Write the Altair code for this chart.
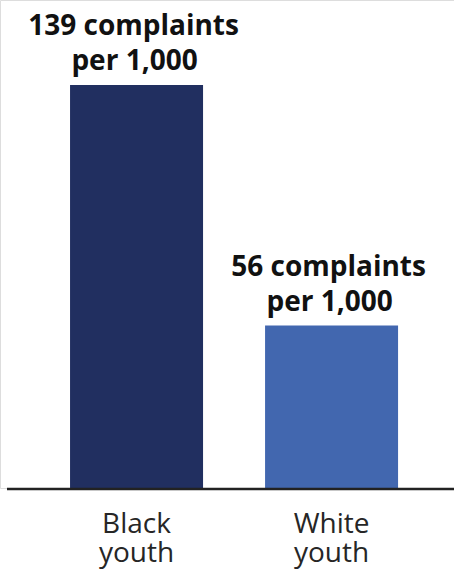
import altair as alt
import pandas as pd

groups = ["Black youth", "White youth"]
values = [139, 56]
line1 = ["139 complaints", "56 complaints"]
line2 = ["per 1,000", "per 1,000"]
cat_labels = ["Black\nyouth", "White\nyouth"]
colors = ["#212F60", "#4267AF"]

df = pd.DataFrame({
    "group": groups,
    "value": values,
    "l1": line1,
    "l2": line2,
    "cat": cat_labels,
})

xenc = alt.X("group:N", sort=groups, axis=None,
             scale=alt.Scale(domain=groups, paddingInner=0.318,
                             paddingOuter=0.323, align=0.556))
yscale = alt.Scale(domain=[0, 168.3], nice=False, zero=True)

base = alt.Chart(df)

bars = base.mark_bar().encode(
    x=xenc,
    y=alt.Y("value:Q", scale=yscale, axis=None),
    color=alt.Color("group:N", scale=alt.Scale(domain=groups, range=colors), legend=None),
)

t1 = base.mark_text(font="Open Sans", fontWeight="bold", fontSize=28,
                    color="#111111", baseline="alphabetic", dy=-49.5, dx=-3).encode(
    x=xenc, y=alt.Y("value:Q", scale=yscale), text="l1:N")
t2 = base.mark_text(font="Open Sans", fontWeight="bold", fontSize=28,
                    color="#111111", baseline="alphabetic", dy=-15, dx=-2).encode(
    x=xenc, y=alt.Y("value:Q", scale=yscale), text="l2:N")

cat = base.mark_text(font="Open Sans", fontSize=28, color="#262626",
                     baseline="alphabetic", lineBreak="\n", lineHeight=29).encode(
    x=xenc, y=alt.value(532.7), text="cat:N")

rule = alt.Chart(pd.DataFrame({"a": [0]})).mark_rule(color="#222222", strokeWidth=2.6).encode(
    x=alt.value(7), x2=alt.value(454), y=alt.value(489))

chart = alt.layer(bars, rule, t1, t2, cat).properties(
    width=454, height=488,
    autosize=alt.AutoSizeParams(type="none"),
    padding={"left": 0, "right": 0, "top": 0, "bottom": 81},
).configure_view(stroke=None).configure(background="white")

chart.save("out.html", embed_options={"renderer": "svg", "actions": False})
